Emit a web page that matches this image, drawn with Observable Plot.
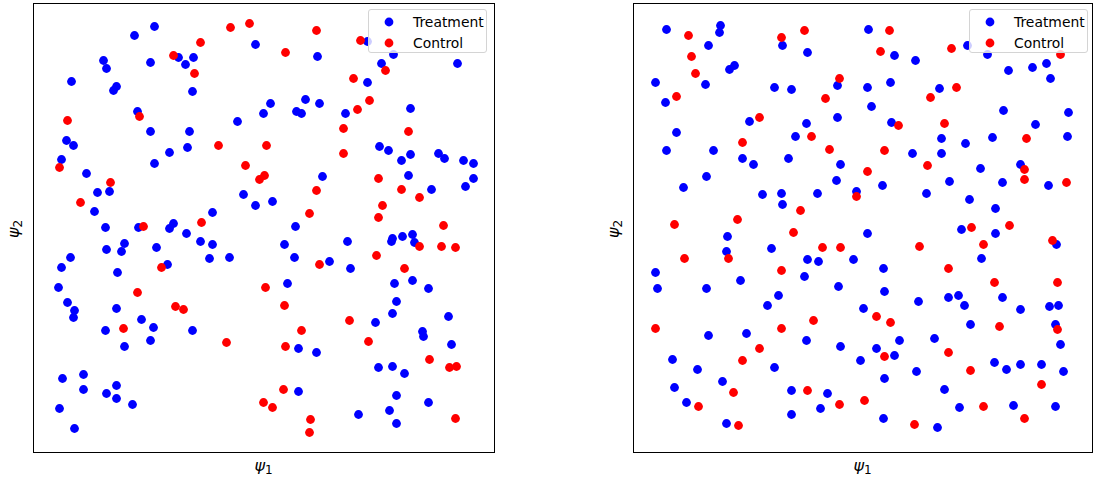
<!DOCTYPE html>
<html>
<head>
<meta charset="utf-8">
<script src="https://cdn.jsdelivr.net/npm/d3@7"></script>
<script src="https://cdn.jsdelivr.net/npm/@observablehq/plot@0.6"></script>
<style>
  body { margin: 0; background: #fff; font-family: "DejaVu Sans", sans-serif; }
  #wrap { position: relative; width: 1093px; height: 479px; overflow: hidden; }
  .panel { position: absolute; top: 0; }
  .xlab, .ylab { position: absolute; font-family: "DejaVu Sans", sans-serif; font-size: 16px; color: #000; white-space: nowrap; }
  .xlab i, .ylab i { font-style: italic; }
  .xlab sub, .ylab sub { font-size: 12px; vertical-align: -3px; font-style: normal; }
  .ylab { transform: translate(-50%, -50%) rotate(-90deg); }
  .xlab { transform: translate(-50%, -50%); }
  .legend { position: absolute; width: 119px; height: 44px; border: 1px solid #d4d4d4; border-radius: 3px; background: rgba(255,255,255,0.8); box-sizing: border-box; }
  .legend .row { position: absolute; left: 0; height: 16px; display: flex; align-items: center; font-size: 13.9px; color: #000; }
  .legend svg { position: absolute; left: 14px; }
  .legend span { position: absolute; left: 44px; white-space: nowrap; }
</style>
</head>
<body>
<div id="wrap"></div>
<script>
// Group labels and colours
const groups = ["Treatment", "Control"];
const groupColors = ["#0000ff", "#ff0000"];
const xLabel = "ψ";
const yLabel = "ψ";

// Panel 1 values [ψ1, ψ2] (axis units)
const leftTreatment = [
[121,426],[101,417],[222,408],[70,392],[73,384],[117,390],[145,395],[152,388],[160,395],[38,371],
[83,366],[80,362],[159,361],[104,341],[230,339],[204,331],[117,321],[156,321],[33,312],[40,307],
[154,305],[136,300],[28,293],[121,289],[53,279],[64,260],[76,261],[210,258],[222,247],[61,241],
[179,240],[72,225],[105,225],[140,229],[136,224],[153,219],[284,396],[334,411],[348,389],[360,398],
[424,389],[334,370],[237,349],[272,353],[286,349],[263,341],[268,339],[312,339],[377,344],[346,306],
[355,302],[368,292],[377,298],[405,299],[411,294],[430,292],[440,289],[440,274],[432,266],[289,276],
[375,277],[398,263],[239,251],[262,226],[167,211],[179,208],[176,194],[196,195],[73,203],[91,209],
[88,201],[123,205],[37,195],[28,185],[84,180],[134,188],[25,165],[34,150],[41,142],[40,135],
[83,144],[108,133],[120,125],[72,122],[159,122],[117,112],[91,106],[29,74],[50,78],[50,63],
[83,67],[73,59],[83,54],[99,48],[26,44],[41,24],[251,208],[261,195],[314,211],[296,191],
[317,184],[358,211],[359,214],[369,216],[379,218],[381,210],[254,169],[361,169],[379,172],[395,164],
[363,151],[359,139],[342,130],[415,136],[389,121],[390,116],[418,108],[265,104],[283,100],[345,85],
[359,86],[371,79],[265,61],[363,57],[395,50],[325,38],[356,42],[363,29]
];
const leftControl = [
[197,425],[216,429],[167,410],[140,397],[161,379],[34,332],[106,336],[185,307],[233,307],[26,285],
[212,287],[77,270],[226,273],[231,277],[47,250],[168,230],[110,226],[283,422],[252,400],[327,412],
[352,382],[320,374],[336,352],[324,343],[310,324],[375,321],[310,299],[283,262],[345,274],[368,263],
[386,255],[349,247],[276,239],[345,235],[410,227],[128,185],[104,160],[142,146],[150,143],[90,124],
[193,110],[386,206],[408,206],[422,205],[343,197],[286,188],[371,184],[232,165],[251,147],[316,132],
[268,122],[335,111],[252,106],[396,93],[416,85],[423,86],[250,63],[230,50],[239,45],[277,33],
[276,20],[422,34]
];

// Panel 2 values [ψ1, ψ2]
const rightTreatment = [
[33,423],[87,427],[86,420],[75,407],[149,407],[174,400],[101,387],[96,383],[22,370],[72,368],
[32,350],[141,365],[158,363],[204,367],[116,331],[173,329],[204,335],[43,320],[162,316],[33,302],
[80,302],[109,294],[120,288],[155,294],[207,288],[73,276],[203,272],[50,265],[129,258],[148,259],
[184,259],[223,261],[149,248],[235,423],[261,397],[282,392],[334,407],[354,398],[375,382],[399,385],
[413,389],[417,374],[234,365],[257,370],[306,364],[238,346],[370,342],[435,340],[258,330],[402,328],
[308,314],[332,309],[359,315],[434,316],[279,299],[308,299],[347,284],[387,288],[249,267],[316,271],
[369,270],[415,267],[293,259],[336,253],[362,244],[94,216],[93,201],[138,204],[174,193],[185,191],
[220,193],[22,180],[24,164],[73,164],[107,172],[171,176],[205,166],[145,157],[134,147],[75,117],
[113,119],[173,112],[207,106],[227,92],[39,93],[64,83],[141,85],[89,71],[41,65],[158,62],
[194,59],[53,50],[187,44],[158,38],[93,29],[234,219],[328,223],[362,219],[423,208],[348,194],
[250,184],[251,161],[285,151],[315,155],[325,157],[331,147],[369,155],[387,143],[416,146],[425,147],
[230,144],[337,128],[422,128],[266,112],[301,114],[243,104],[261,97],[427,108],[283,81],[361,90],
[373,83],[387,88],[408,88],[430,81],[251,74],[311,63],[326,45],[380,47],[422,46],[250,34],
[304,25]
];
const rightControl = [
[55,417],[148,415],[171,422],[58,396],[62,379],[43,356],[206,374],[192,354],[126,335],[178,316],
[109,310],[196,303],[234,281],[223,256],[167,242],[41,228],[104,233],[160,220],[256,422],[247,401],
[318,404],[427,398],[297,355],[323,365],[265,327],[311,329],[393,314],[251,302],[294,287],[391,283],
[391,273],[433,270],[338,225],[376,227],[189,205],[207,205],[51,194],[95,194],[148,182],[22,124],
[148,124],[180,132],[126,104],[109,92],[100,60],[174,62],[65,46],[206,48],[231,52],[105,27],
[419,212],[286,206],[350,208],[315,184],[361,170],[424,170],[243,136],[257,130],[366,126],[424,123],
[251,96],[315,100],[337,82],[408,68],[350,46],[391,34],[281,28]
];

const wrap = document.getElementById("wrap");

function panel(treat, ctrl, opts) {
  const rows = [
    ...treat.map(([x, y]) => ({x, y, g: groups[0]})),
    ...ctrl.map(([x, y]) => ({x, y, g: groups[1]}))
  ];
  const svg = Plot.plot({
    width: opts.width,
    height: 479,
    marginLeft: 33,
    marginRight: opts.marginRight,
    marginTop: 3,
    marginBottom: 27,
    x: {domain: [0, opts.xmax], axis: null},
    y: {domain: [0, 449], axis: null},
    color: {domain: groups, range: groupColors},
    style: {background: "transparent", overflow: "visible"},
    marks: [
      Plot.dot(rows, {x: "x", y: "y", fill: "g", r: 4.4, stroke: "none"}),
      Plot.frame({stroke: "#000", strokeWidth: 1})
    ]
  });
  const div = document.createElement("div");
  div.className = "panel";
  div.style.left = opts.left + "px";
  div.appendChild(svg);
  wrap.appendChild(div);

  const frameL = opts.left + 33;
  const frameR = opts.left + opts.width - opts.marginRight;
  const cx = (frameL + frameR) / 2;

  const xl = document.createElement("div");
  xl.className = "xlab";
  xl.style.left = cx + "px";
  xl.style.top = "466px";
  xl.innerHTML = "<i>" + xLabel + "</i><sub>1</sub>";
  wrap.appendChild(xl);

  const yl = document.createElement("div");
  yl.className = "ylab";
  yl.style.left = (opts.left + 14) + "px";
  yl.style.top = "229px";
  yl.innerHTML = "<i>" + yLabel + "</i><sub>2</sub>";
  wrap.appendChild(yl);

  const lg = document.createElement("div");
  lg.className = "legend";
  lg.style.left = opts.legendLeft + "px";
  lg.style.top = "9px";
  groups.forEach((g, i) => {
    const row = document.createElement("div");
    row.className = "row";
    row.style.top = (4 + i * 21) + "px";
    row.style.width = "119px";
    row.innerHTML = `<svg width="12" height="16"><circle cx="6" cy="8" r="4.4" fill="${groupColors[i]}"/></svg><span>${g}</span>`;
    lg.appendChild(row);
  });
  wrap.appendChild(lg);
}

panel(leftTreatment, leftControl, {left: 0, width: 540, marginRight: 46, xmax: 461, legendLeft: 368});
panel(rightTreatment, rightControl, {left: 600, width: 493, marginRight: 1, xmax: 459, legendLeft: 969});
</script>
</body>
</html>
